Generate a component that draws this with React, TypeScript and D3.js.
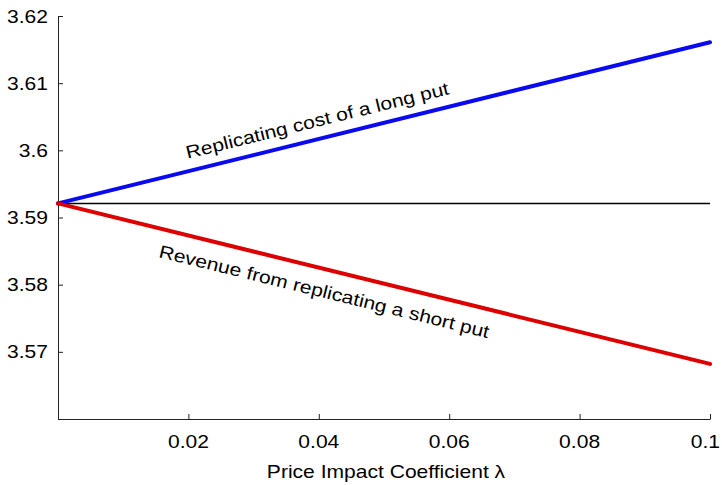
import { useEffect, useRef } from "react";
import * as d3 from "d3";

// Price impact coefficient (x) and the three curves
const lambdas = [0, 0.1];
const longPutCost = [3.5921, 3.6161];
const shortPutRevenue = [3.5921, 3.5682];
const blackScholes = [3.5921, 3.5921];

const yTickValues = [3.57, 3.58, 3.59, 3.6, 3.61, 3.62];
const yTickLabels = ["3.57", "3.58", "3.59", "3.6", "3.61", "3.62"];
const xTickValues = [0.02, 0.04, 0.06, 0.08, 0.1];
const xTickLabels = ["0.02", "0.04", "0.06", "0.08", "0.1"];

const xTitle = "Price Impact Coefficient λ";
const longLabel = "Replicating cost of a long put";
const shortLabel = "Revenue from replicating a short put";

const App = () => {
  const canvas = useRef<SVGSVGElement | null>(null);

  useEffect(() => {
    const width = 722;
    const height = 485;
    const margin = { top: 16, right: 12, bottom: 66, left: 58 };
    const font = "'Liberation Sans', Arial, Helvetica, sans-serif";
    const fontSize = 18;
    const stretch = 1.17; // text in the picture is a bit wide

    const svg = d3.select(canvas.current);
    svg.selectAll("*").remove();

    const x = d3
      .scaleLinear()
      .domain([0, 0.1])
      .range([margin.left, width - margin.right]);
    const y = d3
      .scaleLinear()
      .domain([3.56, 3.62])
      .range([height - margin.bottom, margin.top]);

    // Axes (ticks point inward, labels drawn separately)
    const axisColor = "#222";
    const yAxis = svg
      .append("g")
      .attr("transform", `translate(${margin.left},0)`);
    yAxis.call(
      d3.axisLeft(y).tickValues(y.ticks(30)).tickSize(-3).tickSizeOuter(0).tickFormat(() => "")
    );
    yAxis.call(
      d3.axisLeft(y).tickValues(y.ticks(6)).tickSize(-5).tickSizeOuter(0).tickFormat(() => "")
    );

    const xAxis = svg
      .append("g")
      .attr("transform", `translate(0,${height - margin.bottom})`);
    xAxis.call(
      d3.axisBottom(x).tickValues(x.ticks(20)).tickSize(-3).tickSizeOuter(0).tickFormat(() => "")
    );
    xAxis.call(
      d3.axisBottom(x).tickValues(x.ticks(5)).tickSize(-5).tickSizeOuter(0).tickFormat(() => "")
    );
    svg.selectAll(".domain, .tick line").attr("stroke", axisColor).attr("stroke-width", 1);

    // Text helper
    const label = (tx: number, ty: number, txt: string, anchor: string, rot = 0) =>
      svg
        .append("text")
        .attr("transform", `translate(${tx},${ty}) rotate(${rot}) scale(${stretch},1)`)
        .attr("text-anchor", anchor)
        .attr("font-family", font)
        .attr("font-size", fontSize)
        .attr("fill", "#000")
        .text(txt);

    yTickValues.forEach((v, i) => {
      label(margin.left - 10, y(v) + 6.5, yTickLabels[i], "end");
    });
    xTickValues.forEach((v, i) => {
      const t = label(x(v), height - margin.bottom + 29, xTickLabels[i], "middle");
      // keep the last label inside the picture
      const w = (t.node() as SVGTextElement).getComputedTextLength() * stretch;
      if (x(v) + w / 2 > width - 2) {
        t.attr(
          "transform",
          `translate(${width - 2 - w / 2},${height - margin.bottom + 29}) scale(${stretch},1)`
        );
      }
    });
    label((x(0) + x(0.1)) / 2 + 2, 477.5, xTitle, "middle");

    // Lines
    const line = (vals: number[]) =>
      d3
        .line<number>()
        .x((d, i) => x(lambdas[i]))
        .y((d) => y(d))(vals);

    svg
      .append("path")
      .attr("d", line(blackScholes))
      .attr("fill", "none")
      .attr("stroke", "#000")
      .attr("stroke-width", 1.5);

    svg
      .append("path")
      .attr("d", line(longPutCost))
      .attr("fill", "none")
      .attr("stroke", "#0a0aee")
      .attr("stroke-width", 4)
      .attr("stroke-linecap", "round");

    svg
      .append("path")
      .attr("d", line(shortPutRevenue))
      .attr("fill", "none")
      .attr("stroke", "#dd0000")
      .attr("stroke-width", 4)
      .attr("stroke-linecap", "round");

    // Labels along the lines
    const angleOf = (vals: number[]) =>
      (Math.atan2(y(vals[1]) - y(vals[0]), x(lambdas[1]) - x(lambdas[0])) * 180) / Math.PI;
    const yAt = (vals: number[], lam: number) =>
      y(vals[0] + ((vals[1] - vals[0]) * (lam - lambdas[0])) / (lambdas[1] - lambdas[0]));

    label(x(0.04), yAt(longPutCost, 0.04) - 12.5, longLabel, "middle", angleOf(longPutCost));
    label(x(0.0406), yAt(shortPutRevenue, 0.0406) + 29, shortLabel, "middle", angleOf(shortPutRevenue));
  }, []);

  return (
    <svg
      ref={canvas}
      width={722}
      height={485}
      style={{ position: "absolute", left: 0, top: 0, background: "#fff" }}
    />
  );
};

export default App;
